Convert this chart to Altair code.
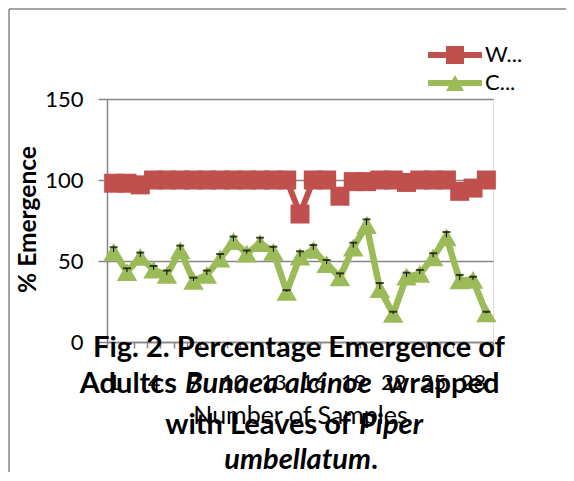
import altair as alt
import pandas as pd

samples = list(range(1, 30))
wrapped = [98, 98, 97, 100, 100, 100, 100, 100, 100, 100, 100, 100, 100, 100, 79,
           100, 100, 90, 99, 99, 100, 100, 98.5, 100, 100, 100, 93, 95, 100]
control = [55.6, 43.2, 52.5, 44.6, 41.4, 56.6, 37.7, 41.4, 51.4, 62.2, 54.5, 61.1, 55.7, 31.0, 52.7,
           56.8, 48.1, 39.9, 58.2, 72.2, 32.7, 17.3, 40.3, 42.0, 52.3, 64.6, 38.1, 38.3, 17.7]
control_err = [2.9, 2.3, 2.7, 2.3, 2.7, 2.9, 2.0, 2.7, 2.9, 2.9, 2.0, 3.3, 3.1, 1.0, 3.3,
               3.1, 2.5, 2.5, 3.1, 3.5, 3.7, 1.4, 2.5, 2.5, 2.5, 3.3, 3.3, 2.0, 1.0]
series_names = ["W...", "C..."]
series_colors = ["#C0504D", "#9BBB59"]
x_label_every = 3
y_ticks = [0, 50, 100, 150]

rows = []
for s, w, c, e in zip(samples, wrapped, control, control_err):
    rows.append({"sample": s, "series": series_names[0], "value": w, "err": 0})
    rows.append({"sample": s, "series": series_names[1], "value": c, "err": e})
df = pd.DataFrame(rows)
df["top"] = df["value"] + df["err"]

# category boundaries carry the tick marks (Excel style); labels shifted to category centres
boundaries = [s - 0.5 for s in samples] + [samples[-1] + 0.5]

FONT = "Lato"
GRAY = "#868686"
W, H = 386, 243
half_band = W / len(samples) / 2

# legend symbols: line + marker (custom paths)
sq_path = "M-3,-0.33H-1V-1H1V-0.33H3V0.33H1V1H-1V0.33H-3Z"
tri_path = "M-3,-0.33H-0.317L0,-0.9L0.317,-0.33H3V0.33H0.683L1,0.9H-1L-0.683,0.33H-3Z"

xenc = alt.X("sample:Q",
             scale=alt.Scale(domain=[0.5, 29.5], nice=False, zero=False),
             axis=alt.Axis(values=boundaries,
                           labelExpr=f"(datum.value - 0.5) % {x_label_every} == 0 && datum.value < 29 ? format(datum.value + 0.5, 'd') : ''",
                           labelOffset=half_band, labelOverlap=False,
                           title="Number of Samples", grid=False,
                           domainColor=GRAY, domainWidth=1.5, tickColor=GRAY, tickWidth=1.5,
                           tickSize=6, labelFontSize=22, labelFont=FONT, labelColor="black",
                           labelPadding=24, labelFlush=False, labelBound=False,
                           titleFont=FONT, titleFontSize=25, titleFontWeight="normal",
                           titleColor="black", titleX=193, titleY=73, titleBaseline="middle",
                           titleAlign="center"))
yenc = alt.Y("value:Q",
             scale=alt.Scale(domain=[0, 150], nice=False),
             axis=alt.Axis(values=y_ticks, title="% Emergence", grid=True, gridColor=GRAY,
                           gridWidth=1.5, domainColor=GRAY, domainWidth=1.5, tickColor=GRAY,
                           tickWidth=1.5, tickSize=9, labelFontSize=22, labelFont=FONT,
                           labelColor="black", labelPadding=15, labelFlush=False,
                           titleFont=FONT, titleFontSize=24.5, titleFontWeight="bold",
                           titleColor="black", titleX=-79, titleY=120, titleBaseline="middle",
                           titleAlign="center", titleAngle=270))

base = alt.Chart(df)
w_data = base.transform_filter(alt.datum.series == series_names[0])
c_data = base.transform_filter(alt.datum.series == series_names[1])

line_w = w_data.mark_line(strokeWidth=6, color=series_colors[0]).encode(x=xenc, y=yenc)
line_c = c_data.mark_line(strokeWidth=6.5, color=series_colors[1]).encode(x=xenc, y=yenc)
pts_w = w_data.mark_point(shape="square", filled=True, size=361, opacity=1,
                          color=series_colors[0]).encode(x=xenc, y=yenc)
pts_c = c_data.mark_point(shape="triangle-up", filled=True, size=420, opacity=1,
                          color=series_colors[1]).encode(x=xenc, y=yenc)

errs = base.transform_filter(alt.datum.err > 0)
err_rule = errs.mark_rule(color="black", strokeWidth=1).encode(x=xenc, y=yenc, y2="top:Q")
err_cap = errs.mark_tick(color="black", thickness=2, size=8, orient="horizontal").encode(
    x=xenc, y=alt.Y("top:Q"))

leg = alt.Legend(title=None, orient="none", legendX=337, legendY=-55,
                 labelFont=FONT, labelFontSize=22, labelColor="black",
                 labelOffset=19, symbolSize=324, symbolStrokeWidth=0, symbolOpacity=1,
                 rowPadding=6, padding=0)
legend_layer = base.transform_filter("false").mark_point(filled=True, opacity=1).encode(
    x=xenc, y=yenc,
    color=alt.Color("series:N", scale=alt.Scale(domain=series_names, range=series_colors), legend=leg),
    shape=alt.Shape("series:N", scale=alt.Scale(domain=series_names, range=[sq_path, tri_path]),
                    legend=leg),
)

one = alt.Chart(pd.DataFrame({"k": [0]}))
frame_top = one.mark_rule(color=GRAY, strokeWidth=1.5).encode(
    x=alt.value(-98), x2=alt.value(480), y=alt.value(-90))
frame_left = one.mark_rule(color=GRAY, strokeWidth=1.5).encode(
    x=alt.value(-98), y=alt.value(-90), y2=alt.value(420))

TS = 29
def txt(t, x, y, align="left", style="normal"):
    return one.mark_text(text=t, font=FONT, fontSize=TS, fontWeight="bold", fontStyle=style,
                         align=align, baseline="alphabetic", color="black").encode(
        x=alt.value(x), y=alt.value(y))

title_layers = [
    txt("Fig. 2. Percentage Emergence of", 192, 258, "center"),
    txt("Adultcs", 70, 294, "right"),
    txt("Bunaea alcinoe", 78, 294, "left", "italic"),
    txt("wrapped", 279, 294, "left"),
    txt("with Leaves of", 244, 335, "right"),
    txt("Piper", 252, 335, "left", "italic"),
    txt("umbellatum", 264, 370, "right", "italic"),
    txt(".", 264, 370, "left"),
]

chart = alt.layer(frame_top, frame_left, line_w, pts_w, line_c, pts_c, err_rule, err_cap,
                  legend_layer, *title_layers).properties(
    width=W, height=H,
    autosize=alt.AutoSizeParams(type="none"),
    padding={"left": 99, "top": 91, "right": 73, "bottom": 130},
).configure_view(stroke=None).configure(background="white")

chart.save("out.html", embed_options={"renderer": "svg", "actions": False})
